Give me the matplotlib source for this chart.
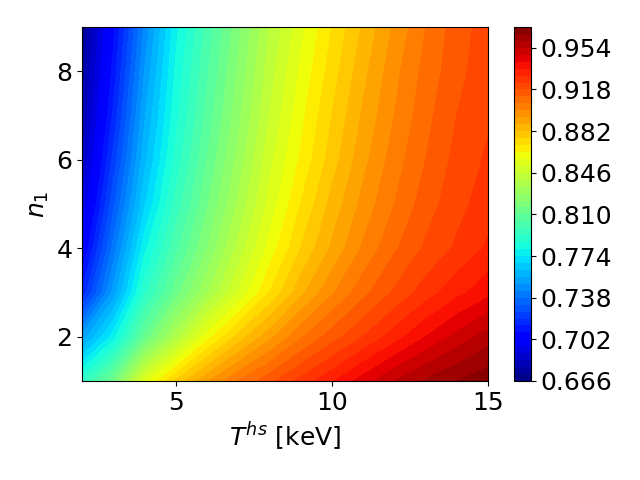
import numpy as np
import matplotlib
matplotlib.use("Agg")
import matplotlib.pyplot as plt

# grid
T_hs = [2, 3, 4, 5, 6, 7, 8, 9, 10, 11, 12, 13, 14, 15]
n_1 = [1, 2, 3, 4, 5, 6, 7, 8, 9]

row_n1 = [.790, .815, .855, .877, .893, .906, .916, .926, .935, .945, .954, .961, .966, .970]
row_n2 = [.752, .777, .811, .837, .861, .878, .892, .905, .915, .924, .933, .942, .950, .957]
row_n3 = [.715, .752, .790, .813, .833, .852, .870, .886, .899, .910, .919, .927, .934, .940]
row_n4 = [.700, .740, .778, .802, .822, .842, .860, .876, .889, .901, .911, .919, .925, .931]
row_n5 = [.690, .730, .767, .794, .815, .835, .854, .870, .884, .896, .906, .915, .922, .927]
row_n6 = [.683, .722, .760, .788, .810, .830, .850, .865, .879, .892, .903, .912, .920, .925]
row_n7 = [.678, .715, .755, .784, .806, .826, .846, .862, .876, .889, .900, .910, .918, .923]
row_n8 = [.675, .710, .750, .781, .803, .823, .843, .859, .873, .886, .898, .908, .916, .922]
row_n9 = [.672, .706, .745, .778, .800, .820, .840, .856, .870, .883, .895, .906, .915, .921]

level_min = 0.666
level_step = 0.006
n_levels = 52

Z = np.array([row_n1, row_n2, row_n3, row_n4, row_n5, row_n6, row_n7, row_n8, row_n9])
levels = level_min + level_step * np.arange(n_levels)

plt.rcParams["font.size"] = 18

fig = plt.figure(figsize=(6.4, 4.8), dpi=100)
ax = fig.add_axes([82 / 640, 1 - 381 / 480, 406 / 640, 354 / 480])
cax = fig.add_axes([514 / 640, 1 - 381 / 480, 17 / 640, 354 / 480])

cs = ax.contourf(T_hs, n_1, Z, levels=levels, cmap="jet")
ax.set_xticks([5, 10, 15])
ax.set_yticks([2, 4, 6, 8])
ax.set_xlabel(r"$T^{hs}$ [keV]")
ax.set_ylabel(r"$n_1$")

cbar = fig.colorbar(cs, cax=cax, ticks=levels[::6])
cbar.ax.set_yticklabels([f"{v:.3f}" for v in levels[::6]])

plt.savefig("out.png", dpi=100)
